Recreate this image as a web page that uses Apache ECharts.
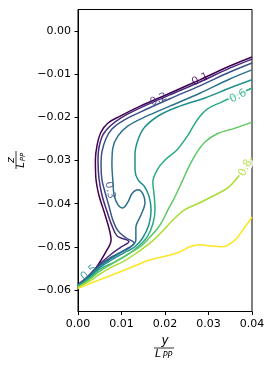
<!DOCTYPE html>
<html><head><meta charset="utf-8">
<script src="https://cdn.jsdelivr.net/npm/echarts@6/dist/echarts.min.js"></script>
<style>html,body{margin:0;padding:0;background:#fff}#c{width:274px;height:370px}</style>
</head><body><div id="c"></div>
<script>
const levels = [0.1, 0.2, 0.3, 0.4, 0.5, 0.6, 0.7, 0.8, 0.9];
const levelColors = ['#440154', '#472c7a', '#3b518b', '#2c718e', '#21908d', '#27ad81', '#5cc863', '#aadc32', '#fde725'];
const xTicks = [0, 0.01, 0.02, 0.03, 0.04];
const yTicks = [0, -0.01, -0.02, -0.03, -0.04, -0.05, -0.06];

const c01 = [[0.04,-0.0060],[0.0349,-0.0081],[0.0280,-0.0113],[0.0211,-0.0144],[0.0143,-0.0174],[0.0097,-0.0197],[0.0069,-0.0213],[0.0053,-0.0234],[0.0044,-0.0264],[0.0040,-0.0299],[0.0041,-0.0340],[0.0048,-0.0380],[0.0060,-0.0419],[0.0071,-0.0456],[0.0076,-0.0484],[0.0064,-0.0512],[0.0046,-0.0542],[0.0028,-0.0567],[0.0009,-0.0583],[0,-0.0586]];
const c02 = [[0.04,-0.0065],[0.0349,-0.0086],[0.0280,-0.0118],[0.0211,-0.0148],[0.0143,-0.0178],[0.0099,-0.0201],[0.0074,-0.0220],[0.0057,-0.0241],[0.0048,-0.0271],[0.0046,-0.0299],[0.0048,-0.0340],[0.0055,-0.0380],[0.0067,-0.0419],[0.0078,-0.0451],[0.0090,-0.0475],[0.0117,-0.0488],[0.0097,-0.0502],[0.0074,-0.0519],[0.0051,-0.0539],[0.0028,-0.0563],[0.0011,-0.0579],[0,-0.0587]];
const c03 = [[0.04,-0.0074],[0.0349,-0.0095],[0.0280,-0.0127],[0.0211,-0.0157],[0.0143,-0.0188],[0.0103,-0.0208],[0.0078,-0.0227],[0.0064,-0.0250],[0.0055,-0.0280],[0.0053,-0.0310],[0.0055,-0.0345],[0.0062,-0.0373],[0.0071,-0.0405],[0.0080,-0.0438],[0.0092,-0.0463],[0.0110,-0.0479],[0.0129,-0.0491],[0.0108,-0.0507],[0.0078,-0.0523],[0.0051,-0.0542],[0.0028,-0.0565],[0.0011,-0.0581],[0,-0.0588]];
const c04 = [[0.04,-0.0090],[0.0349,-0.0111],[0.0280,-0.0144],[0.0211,-0.0174],[0.0154,-0.0199],[0.0115,-0.0220],[0.0092,-0.0243],[0.0080,-0.0271],[0.0078,-0.0310],[0.0080,-0.0345],[0.0083,-0.0380],[0.0092,-0.0403],[0.0103,-0.0410],[0.0115,-0.0396],[0.0124,-0.0377],[0.0138,-0.0368],[0.0149,-0.0377],[0.0154,-0.0398],[0.0145,-0.0426],[0.0133,-0.0456],[0.0133,-0.0484],[0.0122,-0.0500],[0.0101,-0.0512],[0.0074,-0.0528],[0.0051,-0.0544],[0.0028,-0.0567],[0.0011,-0.0582],[0,-0.0589]];
const c05 = [[0.04,-0.0113],[0.0349,-0.0132],[0.0292,-0.0155],[0.0234,-0.0174],[0.0189,-0.0194],[0.0154,-0.0222],[0.0138,-0.0252],[0.0131,-0.0287],[0.0131,-0.0322],[0.0138,-0.0345],[0.0152,-0.0359],[0.0163,-0.0382],[0.0168,-0.0414],[0.0163,-0.0449],[0.0149,-0.0479],[0.0131,-0.0500],[0.0106,-0.0514],[0.0078,-0.0530],[0.0051,-0.0547],[0.0028,-0.0569],[0.0011,-0.0583],[0,-0.0590]];
const c06 = [[0.04,-0.0132],[0.0366,-0.0148],[0.0331,-0.0164],[0.0297,-0.0181],[0.0274,-0.0206],[0.0253,-0.0241],[0.0228,-0.0275],[0.0200,-0.0299],[0.0182,-0.0322],[0.0172,-0.0350],[0.0175,-0.0380],[0.0177,-0.0414],[0.0172,-0.0447],[0.0159,-0.0477],[0.0138,-0.0500],[0.0113,-0.0519],[0.0085,-0.0535],[0.0051,-0.0551],[0.0028,-0.0572],[0.0011,-0.0584],[0,-0.0591]];
const c07 = [[0.04,-0.0211],[0.0361,-0.0225],[0.0320,-0.0238],[0.0292,-0.0257],[0.0274,-0.0280],[0.0257,-0.0310],[0.0241,-0.0345],[0.0223,-0.0384],[0.0207,-0.0414],[0.0189,-0.0449],[0.0166,-0.0477],[0.0143,-0.0500],[0.0120,-0.0514],[0.0097,-0.0528],[0.0074,-0.0542],[0.0051,-0.0556],[0.0028,-0.0574],[0.0011,-0.0587],[0,-0.0593]];
const c08 = [[0.04,-0.0294],[0.0372,-0.0333],[0.0345,-0.0363],[0.0315,-0.0380],[0.0280,-0.0398],[0.0246,-0.0414],[0.0218,-0.0438],[0.0193,-0.0465],[0.0166,-0.0491],[0.0138,-0.0512],[0.0108,-0.0532],[0.0074,-0.0549],[0.0051,-0.0563],[0.0028,-0.0579],[0.0011,-0.0588],[0,-0.0595]];
const c09 = [[0.04,-0.0431],[0.0379,-0.0461],[0.0361,-0.0484],[0.0333,-0.0500],[0.0303,-0.0498],[0.0280,-0.0495],[0.0257,-0.0500],[0.0234,-0.0512],[0.0205,-0.0521],[0.0166,-0.0530],[0.0131,-0.0544],[0.0097,-0.0558],[0.0051,-0.0576],[0.0016,-0.0590],[0,-0.0597]];
const contours = [c01, c02, c03, c04, c05, c06, c07, c08, c09];

// contour label texts: [level index, position, rotation, white box]
const labelLevel = [0, 1, 2, 5, 7, 4];
const labelPos = [[0.0281,-0.0112],[0.0185,-0.0159],[0.0073,-0.0369],[0.0368,-0.0151],[0.0385,-0.0317],[0.0025,-0.0560]];
const labelRot = [24, 24, -78, 28, 62, 40];
const labelBox = [false, false, false, true, true, false];

const fmt = v => (Math.abs(v) < 1e-9 ? '0.00' : (v < 0 ? '\u2212' : '') + Math.abs(v).toFixed(2));
const tickFont = {color:'#000', fontFamily:'DejaVu Sans', fontSize:11};

const series = contours.map((d, i) => ({
  type:'line', data:d, symbol:'none', smooth:0.35, silent:true,
  lineStyle:{color:levelColors[i], width:1.5}, z:2+i, animation:false
}));
series.push({
  type:'scatter', symbolSize:0, silent:true, z:20, animation:false,
  data: labelPos.map((p, k) => ({
    value:p,
    label:{show:true, position:'inside', formatter:levels[labelLevel[k]].toFixed(1), rotate:labelRot[k],
      color:levelColors[labelLevel[k]], fontFamily:'DejaVu Sans', fontSize:11,
      backgroundColor: labelBox[k] ? '#fff' : 'transparent', padding: labelBox[k] ? [0,1] : 0}
  }))
});

const chart = echarts.init(document.getElementById('c'), null, {renderer:'canvas'});
chart.setOption({
  animation:false,
  backgroundColor:'#fff',
  grid:{left:78, right:22, top:9.5, bottom:58.5, show:true, borderColor:'#000', borderWidth:1, backgroundColor:'transparent'},
  xAxis:{type:'value', min:0, max:0.04, interval:0.01,
    axisLine:{show:true, onZero:false, lineStyle:{color:'#000', width:1}},
    axisTick:{show:true, length:3.5, lineStyle:{color:'#000'}, customValues:xTicks},
    axisLabel:Object.assign({margin:7, formatter:fmt, customValues:xTicks}, tickFont),
    splitLine:{show:false}},
  yAxis:{type:'value', min:-0.065, max:0.005,
    axisLine:{show:true, onZero:false, lineStyle:{color:'#000', width:1}},
    axisTick:{show:true, length:3.5, lineStyle:{color:'#000'}, customValues:yTicks},
    axisLabel:Object.assign({margin:7, formatter:fmt, customValues:yTicks}, tickFont),
    splitLine:{show:false}},
  series: series,
  graphic:[
    {type:'group', x:164, y:348, children:[
      {type:'text', x:1, y:-7, style:{text:'y', font:'italic 12px "DejaVu Sans"', fill:'#000', align:'center', verticalAlign:'middle', textAlign:'center', textVerticalAlign:'middle'}},
      {type:'line', shape:{x1:-10, y1:0, x2:10, y2:0}, style:{stroke:'#000', lineWidth:0.8}},
      {type:'text', x:-6, y:6, style:{text:'L', font:'italic 11px "DejaVu Sans"', fill:'#000', align:'center', verticalAlign:'middle', textAlign:'center', textVerticalAlign:'middle'}},
      {type:'text', x:3.5, y:8, style:{text:'PP', font:'italic 8px "DejaVu Sans"', fill:'#000', align:'center', verticalAlign:'middle', textAlign:'center', textVerticalAlign:'middle'}}
    ]},
    {type:'group', x:16, y:160, rotation:Math.PI/2, children:[
      {type:'text', x:0, y:-5, style:{text:'z', font:'italic 11px "DejaVu Sans"', fill:'#000', align:'center', verticalAlign:'middle', textAlign:'center', textVerticalAlign:'middle'}},
      {type:'line', shape:{x1:-9, y1:0, x2:9, y2:0}, style:{stroke:'#000', lineWidth:0.8}},
      {type:'text', x:-5, y:5.5, style:{text:'L', font:'italic 10px "DejaVu Sans"', fill:'#000', align:'center', verticalAlign:'middle', textAlign:'center', textVerticalAlign:'middle'}},
      {type:'text', x:3, y:7, style:{text:'PP', font:'italic 7px "DejaVu Sans"', fill:'#000', align:'center', verticalAlign:'middle', textAlign:'center', textVerticalAlign:'middle'}}
    ]}
  ]
});
</script>
</body></html>
